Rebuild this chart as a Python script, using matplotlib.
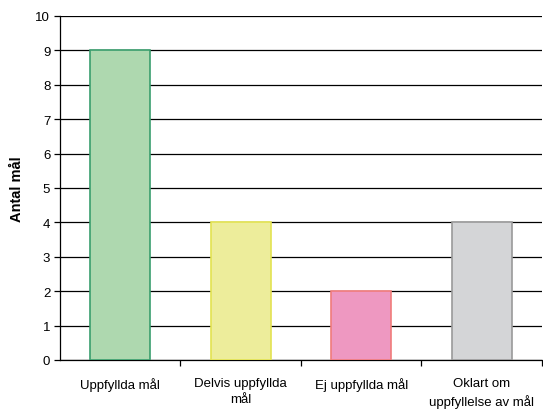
import matplotlib
matplotlib.use("Agg")
import matplotlib.pyplot as plt

categories = ["Uppfyllda mål", "Delvis uppfyllda\nmål", "Ej uppfyllda mål", "Oklart om\nuppfyllelse av mål"]
values = [9, 4, 2, 4]
fill_colors = ["#AED8AF", "#EDED9B", "#EE98C1", "#D4D5D7"]
edge_colors = ["#3A9E6E", "#E3E352", "#F07C7C", "#9A9A9A"]
y_label = "Antal mål"

plt.rcParams['font.family'] = ['Liberation Sans', 'DejaVu Sans']
fig = plt.figure(figsize=(5.43, 4.10), dpi=100)
ax = fig.add_axes([60/543, 1-361/410, 482/543, 344/410])

x = range(len(categories))
ax.bar(x, values, width=0.5, color=fill_colors, edgecolor=edge_colors, linewidth=1.2, zorder=3)
ax.set_xlim(-0.5, len(categories) - 0.5)
ax.set_ylim(0, 10)
ax.set_yticks(range(0, 11))
ax.yaxis.grid(True, color="black", linewidth=0.9, zorder=0)
ax.set_axisbelow(True)
ax.set_xticks([i + 0.5 for i in range(len(categories))])
ax.set_xticklabels([])
ax.set_xticks(list(x), minor=True)
ax.set_xticklabels(categories, minor=True, fontsize=9.5, linespacing=1.45)
ax.tick_params(axis='x', which='minor', length=0, pad=12)
ax.tick_params(axis='x', which='major', length=4, width=0.9, color='black')
ax.tick_params(axis='y', length=4, width=0.9, labelsize=9.5, pad=3)
for s in ["top", "right"]:
    ax.spines[s].set_visible(False)
ax.spines["left"].set_linewidth(0.9)
ax.spines["bottom"].set_linewidth(0.9)
ax.set_ylabel(y_label, fontsize=10.5, fontweight='bold', labelpad=8)

fig.savefig("out.png", dpi=100)
